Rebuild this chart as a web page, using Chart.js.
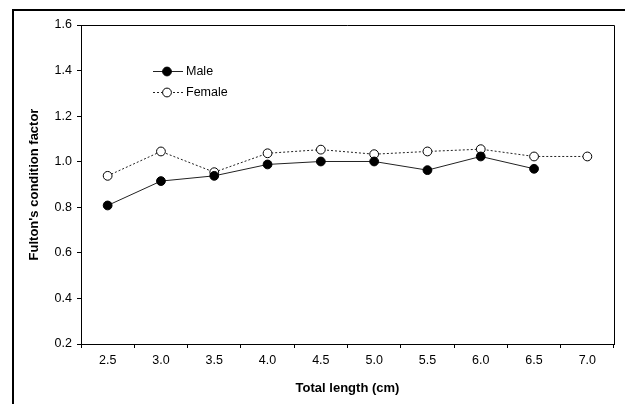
<!DOCTYPE html>
<html>
<head>
<meta charset="utf-8">
<script src="https://cdn.jsdelivr.net/npm/chart.js@4"></script>
<style>
  html, body { margin: 0; padding: 0; background: #fff; }
  #wrap { position: relative; width: 625px; height: 404px; overflow: hidden; }
  #frame { position: absolute; left: 12px; top: 9px; width: 700px; height: 500px;
           border-left: 2px solid #000; border-top: 2px solid #000; pointer-events: none; }
  canvas { position: absolute; left: 0; top: 0; }
</style>
</head>
<body>
<div id="wrap">
  <canvas id="c" width="625" height="404"></canvas>
  <div id="frame"></div>
</div>
<script>
const categories = ["2.5", "3.0", "3.5", "4.0", "4.5", "5.0", "5.5", "6.0", "6.5", "7.0"];
const maleValues = [0.808, 0.915, 0.938, 0.988, 1.001, 1.001, 0.963, 1.023, 0.969, null];
const femaleValues = [0.938, 1.045, 0.954, 1.037, 1.053, 1.033, 1.045, 1.055, 1.023, 1.023];
const seriesNames = ["Male", "Female"];
const yTicks = [0.2, 0.4, 0.6, 0.8, 1.0, 1.2, 1.4, 1.6];

const FONT = "'Liberation Sans', Arial, sans-serif";

const boxPlugin = {
  id: 'box',
  afterDraw(chart) {
    const {ctx, chartArea: a} = chart;
    ctx.save();
    ctx.strokeStyle = '#000';
    ctx.lineWidth = 1;
    ctx.beginPath();
    ctx.moveTo(a.left, a.top + 0.5);
    ctx.lineTo(a.right + 0.5, a.top + 0.5);
    ctx.lineTo(a.right + 0.5, a.bottom);
    ctx.stroke();
    ctx.restore();
  }
};

const legendPlugin = {
  id: 'customLegend',
  afterDraw(chart) {
    const {ctx} = chart;
    ctx.save();
    const rows = [
      {y: 71, ds: chart.data.datasets[0]},
      {y: 92, ds: chart.data.datasets[1]}
    ];
    rows.forEach(r => {
      const ds = r.ds;
      ctx.strokeStyle = ds.borderColor;
      ctx.lineWidth = 1;
      ctx.setLineDash(ds.borderDash || []);
      ctx.beginPath();
      ctx.moveTo(153, r.y + 0.5);
      ctx.lineTo(183, r.y + 0.5);
      ctx.stroke();
      ctx.setLineDash([]);
      ctx.beginPath();
      ctx.arc(167, r.y + 0.5, ds.pointRadius, 0, Math.PI * 2);
      ctx.fillStyle = ds.pointBackgroundColor;
      ctx.fill();
      ctx.strokeStyle = ds.pointBorderColor;
      ctx.lineWidth = ds.pointBorderWidth;
      ctx.stroke();
      ctx.fillStyle = '#000';
      ctx.font = "12.5px " + FONT;
      ctx.textBaseline = 'middle';
      ctx.textAlign = 'left';
      ctx.fillText(ds.label, 186, r.y + 1);
    });
    ctx.restore();
  }
};

new Chart(document.getElementById('c'), {
  type: 'line',
  data: {
    labels: categories,
    datasets: [
      {
        label: seriesNames[0],
        data: maleValues,
        borderColor: '#222',
        borderWidth: 1,
        pointRadius: 4.4,
        pointBackgroundColor: '#000',
        pointBorderColor: '#000',
        pointBorderWidth: 1,
        tension: 0,
        spanGaps: false
      },
      {
        label: seriesNames[1],
        data: femaleValues,
        borderColor: '#222',
        borderWidth: 1,
        borderDash: [2, 2],
        pointRadius: 4.4,
        pointBackgroundColor: '#fff',
        pointBorderColor: '#000',
        pointBorderWidth: 1,
        tension: 0
      }
    ]
  },
  options: {
    responsive: false,
    animation: false,
    events: [],
    layout: { padding: { left: 0, top: 25, right: 11, bottom: 0 } },
    plugins: {
      legend: { display: false },
      tooltip: { enabled: false }
    },
    scales: {
      x: {
        type: 'category',
        offset: true,
        grid: { offset: true, drawOnChartArea: false, tickLength: 4, color: '#000', tickColor: '#000' },
        border: { color: '#000', width: 1 },
        ticks: { color: '#000', font: { family: FONT, size: 12.5 }, padding: 5, maxRotation: 0 },
        title: { display: true, text: 'Total length (cm)', color: '#000',
                 font: { family: FONT, size: 13, weight: 'bold' }, padding: { top: 0, bottom: 8 } },
        afterFit(s) { s.height = 60; }
      },
      y: {
        min: 0.2,
        max: 1.6,
        afterBuildTicks(s) { s.ticks = yTicks.map(v => ({ value: v })); },
        grid: { drawOnChartArea: false, tickLength: 4, color: '#000', tickColor: '#000' },
        border: { color: '#000', width: 1 },
        ticks: { color: '#000', font: { family: FONT, size: 12.5 }, padding: 5,
                 callback: v => Number(v).toFixed(1) },
        title: { display: true, text: "Fulton's condition factor", color: '#000',
                 font: { family: FONT, size: 13, weight: 'bold' }, padding: { top: 27, bottom: 0 } },
        afterFit(s) { s.width = 81; }
      }
    }
  },
  plugins: [boxPlugin, legendPlugin]
});
</script>
</body>
</html>
